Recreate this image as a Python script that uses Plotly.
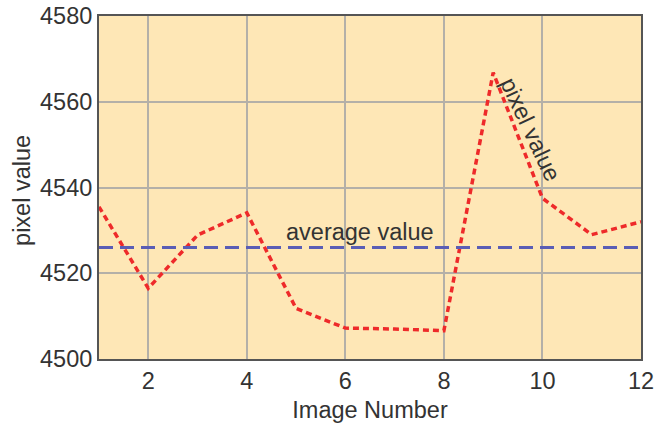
import plotly.graph_objects as go

image_number = [1, 2, 3, 4, 5, 6, 7, 8, 9, 10, 11, 12]
pixel_value = [4535.5, 4516.5, 4528.9, 4534.1, 4511.8, 4507.2, 4507.0, 4506.6, 4566.8, 4537.5, 4529.0, 4532.0]
average_value = 4526.0
x_ticks = [2, 4, 6, 8, 10, 12]
y_ticks = [4500, 4520, 4540, 4560, 4580]

font_family = "Liberation Sans, Arial, sans-serif"
text_color = "#333333"
fs = 23.5

fig = go.Figure()
fig.add_trace(go.Scatter(
    x=image_number, y=pixel_value, mode="lines",
    line=dict(color="#EE2A2A", width=3.5, dash="6px,4px"),
    showlegend=False, hoverinfo="skip"))
fig.add_trace(go.Scatter(
    x=[image_number[0], image_number[-1]], y=[average_value, average_value], mode="lines",
    line=dict(color="#5A5DB5", width=3, dash="14px,7px"),
    showlegend=False, hoverinfo="skip"))

fig.add_annotation(x=6.3, y=4529.6, text="average value", showarrow=False,
                   font=dict(family=font_family, size=fs, color=text_color))
fig.add_annotation(x=9.75, y=4553.6, text="pixel value", showarrow=False, textangle=65,
                   font=dict(family=font_family, size=fs, color=text_color))
# y-axis title placed precisely
fig.add_annotation(x=0, xref="paper", xanchor="center", yanchor="middle", xshift=-77,
                   y=0.49, yref="paper",
                   text="pixel value", showarrow=False, textangle=-90,
                   font=dict(family=font_family, size=fs, color=text_color))

fig.update_layout(
    width=670, height=423,
    margin=dict(l=99, r=29, t=16, b=64),
    paper_bgcolor="white", plot_bgcolor="#FEE7B6",
    font=dict(family=font_family, size=fs, color=text_color),
)
fig.update_xaxes(range=[1, 12], tickvals=x_ticks, showgrid=True, gridcolor="#B4B0A8", gridwidth=2,
                 showline=True, linecolor="#555555", linewidth=2, mirror=True, zeroline=False,
                 ticks="", automargin=False,
                 title=dict(text="Image Number", font=dict(size=fs)),
                 tickfont=dict(size=fs))
fig.update_yaxes(range=[4500, 4580], tickvals=y_ticks, showgrid=True, gridcolor="#B4B0A8", gridwidth=2,
                 showline=True, linecolor="#555555", linewidth=2, mirror=True, zeroline=False,
                 ticks="", automargin=False,
                 tickfont=dict(size=fs))

fig.write_html("out.html", config={"displayModeBar": False},
               post_script="document.body.style.margin='0';")
